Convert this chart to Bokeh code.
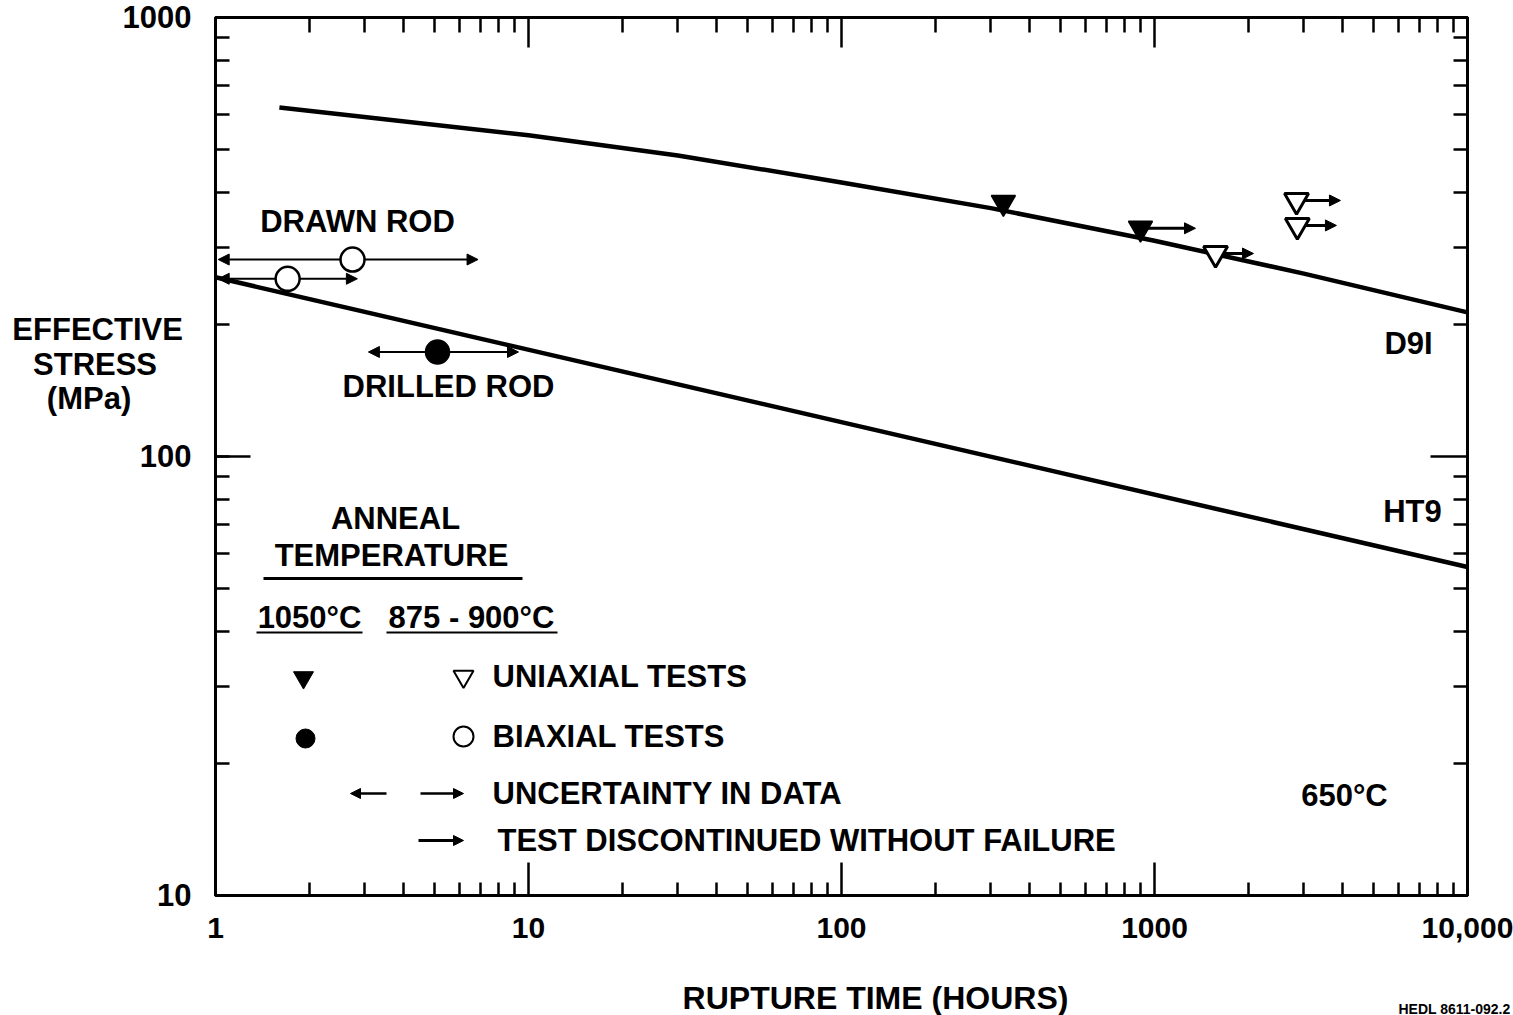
from bokeh.plotting import figure
from bokeh.layouts import column
from bokeh.models import (FixedTicker, LogAxis, Label, Arrow, NormalHead,
                          ColumnDataSource, Range1d)
from bokeh.core.properties import value
from bokeh.embed import file_html
from bokeh.resources import INLINE

# ---------------- data ----------------
d9i_time = [1.6, 10, 30, 100, 300, 1000, 3000, 10000]
d9i_stress = [624, 539, 485, 421, 368, 310, 261, 213]

ht9_time = [1, 10000]
ht9_stress = [256, 56]

# uniaxial tests, anneal 1050 C (filled triangles)
uni_hot_time = [329, 902]
uni_hot_stress = [379, 331]
# discontinued (arrow to the right)
uni_hot_disc_time = [902]
uni_hot_disc_stress = [331]
uni_hot_disc_end = [1352]

# uniaxial tests, anneal 875-900 C (open triangles), all discontinued
uni_cool_time = [1567, 2843, 2860]
uni_cool_stress = [290, 383, 336]
uni_cool_disc_end = [2071, 3927, 3813]

# biaxial tests, 875-900 C (open circles, drawn rod) with uncertainty range
bi_cool_time = [2.74, 1.70]
bi_cool_stress = [281, 254]
bi_cool_low = [1.02, 1.02]
bi_cool_high = [6.9, 2.84]

# biaxial tests, 1050 C (filled circle, drilled rod)
bi_hot_time = [5.12]
bi_hot_stress = [173]
bi_hot_low = [3.08]
bi_hot_high = [9.29]

x_ticks = [1, 10, 100, 1000, 10000]
x_tick_labels = ["1", "10", "100", "1000", "10,000"]
y_ticks = [10, 100, 1000]
y_tick_labels = ["10", "100", "1000"]
y_title_lines = ["EFFECTIVE", "STRESS", "(MPa)"]
x_title = "RUPTURE TIME (HOURS)"
figure_id = "HEDL 8611-092.2"

# ---------------- layout helpers ----------------
W, H_MAIN, H_FOOT = 1513, 955, 60
X0, X1, Y0, Y1 = 215, 1467, 17, 895


def tx(px):
    return 10 ** (4 * (px - X0) / (X1 - X0))


def sy(py):
    return 10 ** (3 - 2 * (py - Y0) / (Y1 - Y0))


FONT = "Liberation Sans"
NB = "\u00a0"

p = figure(width=W, height=H_MAIN, x_axis_type="log", y_axis_type="log",
           x_range=Range1d(1, 10000), y_range=Range1d(10, 1000),
           output_backend="svg", toolbar_location=None,
           min_border_left=X0, min_border_right=W - X1,
           min_border_top=Y0, min_border_bottom=H_MAIN - Y1)
p.xgrid.visible = False
p.ygrid.visible = False
p.outline_line_color = "black"
p.outline_line_width = 3
p.background_fill_color = "white"
p.border_fill_color = "white"

x_minor = [m * d for d in [1, 10, 100, 1000] for m in range(2, 10)]
y_minor = [m * d for d in [10, 100] for m in range(2, 10)]


def style_axis(ax, ticks, minor, major_in, minor_in, labels=None):
    ax.ticker = FixedTicker(ticks=ticks, minor_ticks=minor)
    ax.axis_line_color = "black"
    ax.axis_line_width = 3
    ax.major_tick_in = major_in
    ax.major_tick_out = 0
    ax.minor_tick_in = minor_in
    ax.minor_tick_out = 0
    ax.major_tick_line_width = 2.5
    ax.minor_tick_line_width = 2.5
    ax.major_tick_line_color = "black"
    ax.minor_tick_line_color = "black"
    if labels is None:
        ax.major_label_text_font_size = "1px"
        ax.major_label_text_alpha = 0
        ax.major_label_standoff = 0
    else:
        ax.major_label_overrides = {t: l for t, l in zip(ticks, labels)}
        ax.major_label_text_font = FONT
        ax.major_label_text_font_style = "bold"
        ax.major_label_text_font_size = "30px"
        ax.major_label_text_color = "black"


bx = p.below[0]
style_axis(bx, x_ticks, x_minor, 33, 13, x_tick_labels)
bx.major_label_standoff = 22

# left axis: value ticks plus the (horizontal) axis title written as labels
ytitle_pos = [round(sy(py), 3) for py in (329, 364, 398)]
ytitle_pad = [1, 4, 7]
ly = p.left[0]
style_axis(ly, y_ticks + ytitle_pos, y_minor + [100], 0, 14,
           y_tick_labels + [t + NB * n for t, n in zip(y_title_lines, ytitle_pad)])
ly.major_label_standoff = 24
ly.major_label_text_font_size = "31px"
# longer inner tick at the middle decade of the left axis
p.segment(x0=[1], x1=[tx(250)], y0=[y_ticks[1]], y1=[y_ticks[1]],
          line_color="black", line_width=2.5)

ax_top = LogAxis()
style_axis(ax_top, x_ticks, x_minor, 30, 15)
p.add_layout(ax_top, "above")
ax_right = LogAxis()
style_axis(ax_right, y_ticks, y_minor, 37, 14)
p.add_layout(ax_right, "right")

# ---------------- curves ----------------
p.line(d9i_time, d9i_stress, line_color="black", line_width=4.5)
p.line(ht9_time, ht9_stress, line_color="black", line_width=4.5)

# ---------------- arrows (under the markers) ----------------
unc_src = ColumnDataSource(dict(x0=bi_cool_low + bi_hot_low,
                                x1=bi_cool_high + bi_hot_high,
                                y=bi_cool_stress + bi_hot_stress))
p.add_layout(Arrow(start=NormalHead(size=11, fill_color="black", line_color="black"),
                   end=NormalHead(size=11, fill_color="black", line_color="black"),
                   x_start="x0", y_start="y", x_end="x1", y_end="y",
                   source=unc_src, line_width=2, line_color="black", level="underlay"))

disc_src = ColumnDataSource(dict(x0=uni_hot_disc_time + uni_cool_time,
                                 x1=uni_hot_disc_end + uni_cool_disc_end,
                                 y=uni_hot_disc_stress + uni_cool_stress))
p.add_layout(Arrow(end=NormalHead(size=11, fill_color="black", line_color="black"),
                   x_start="x0", y_start="y", x_end="x1", y_end="y",
                   source=disc_src, line_width=3, line_color="black", level="underlay"))

# ---------------- markers ----------------
p.scatter(uni_hot_time, uni_hot_stress, marker="inverted_triangle", size=24,
          fill_color="black", line_color="black", line_width=1.5)
p.scatter(uni_cool_time, uni_cool_stress, marker="inverted_triangle", size=24,
          fill_color="white", line_color="black", line_width=3)
p.scatter(bi_cool_time, bi_cool_stress, marker="circle", size=24,
          fill_color="white", line_color="black", line_width=2.5)
p.scatter(bi_hot_time, bi_hot_stress, marker="circle", size=24,
          fill_color="black", line_color="black", line_width=1.5)


# ---------------- texts inside the frame ----------------
def lab(text, px, py, align="center", size="31px"):
    p.add_layout(Label(x=tx(px), y=sy(py), text=text, text_font=FONT,
                       text_font_style="bold", text_font_size=size,
                       text_align=align, text_baseline="middle",
                       text_color="black"))


lab("DRAWN ROD", 357, 221)
lab("DRILLED ROD", 448, 386)
lab("D9I", 1408, 343)
lab("HT9", 1412, 511)
lab("ANNEAL", 395, 518)
lab("TEMPERATURE", 391, 555)
lab("1050°C", 309, 617)
lab("875 - 900°C", 471, 617)
lab("UNIAXIAL TESTS", 492, 676, "left")
lab("BIAXIAL TESTS", 492, 736, "left")
lab("UNCERTAINTY IN DATA", 492, 793, "left")
lab("TEST DISCONTINUED WITHOUT FAILURE", 497, 840, "left")
lab("650°C", 1344, 795)

# underlines of the legend heading
p.segment(x0=[tx(263), tx(256), tx(386)], y0=[sy(578), sy(632), sy(632)],
          x1=[tx(522), tx(362), tx(557)], y1=[sy(578), sy(632), sy(632)],
          line_color="black", line_width=[3, 2, 2])

# legend keys
p.scatter([tx(303)], [sy(677)], marker="inverted_triangle", size=20,
          fill_color="black", line_color="black")
p.scatter([tx(463)], [sy(676)], marker="inverted_triangle", size=20,
          fill_color="white", line_color="black", line_width=2)
p.scatter([tx(305)], [sy(738)], marker="circle", size=19,
          fill_color="black", line_color="black")
p.scatter([tx(463)], [sy(736)], marker="circle", size=20,
          fill_color="white", line_color="black", line_width=2)

leg_unc = ColumnDataSource(dict(x0=[tx(386), tx(420)], x1=[tx(350), tx(463)],
                                y=[sy(793), sy(793)]))
p.add_layout(Arrow(end=NormalHead(size=10, fill_color="black", line_color="black"),
                   x_start="x0", y_start="y", x_end="x1", y_end="y",
                   source=leg_unc, line_width=2.5, line_color="black"))
leg_disc = ColumnDataSource(dict(x0=[tx(418)], x1=[tx(463)], y=[sy(840)]))
p.add_layout(Arrow(end=NormalHead(size=10, fill_color="black", line_color="black"),
                   x_start="x0", y_start="y", x_end="x1", y_end="y",
                   source=leg_disc, line_width=3, line_color="black"))

# ---------------- footer strip: x-axis title and figure id ----------------
f = figure(width=W, height=H_FOOT, y_range=Range1d(H_FOOT, 0),
           output_backend="svg", toolbar_location=None,
           x_axis_location=None, y_axis_location=None,
           min_border=0, outline_line_color=None)
try:
    f.frame_align = False
    f.x_range = Range1d(0, W)
except Exception:
    f.x_range = Range1d(X0, X1)
f.xgrid.visible = False
f.ygrid.visible = False
f.text(x=[875], y=[997 - H_MAIN], text=[x_title], text_font=value(FONT),
       text_font_style="bold", text_font_size="32px", text_align="center",
       text_baseline="middle", text_color="black")
f.text(x=[1510], y=[1008 - H_MAIN], text=[figure_id], text_font=value(FONT),
       text_font_style="bold", text_font_size="14px", text_align="right",
       text_baseline="middle", text_color="black")

layout = column(p, f, spacing=0)
open("out.html", "w").write(file_html(layout, INLINE))
